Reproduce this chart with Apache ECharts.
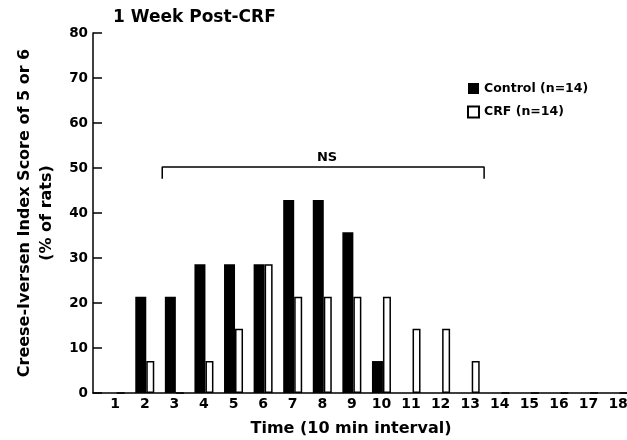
<!DOCTYPE html>
<html>
<head>
<meta charset="UTF-8">
<title>1 Week Post-CRF</title>
<script src="https://cdn.jsdelivr.net/npm/echarts@6.0.0/dist/echarts.min.js"></script>
<style>
    html, body { margin: 0; padding: 0; background: #fff; }
    #chart { width: 627px; height: 440px; }
</style>
</head>
<body>
<div id="chart"></div>
<script>
    // time intervals (10 min each)
    const intervals = [1, 2, 3, 4, 5, 6, 7, 8, 9, 10, 11, 12, 13, 14, 15, 16, 17, 18];
    // % of rats with score 5 or 6
    const controlValues = [0, 21.4, 21.4, 28.6, 28.6, 28.6, 42.9, 42.9, 35.7, 7.1, 0, 0, 0, 0, 0, 0, 0, 0];
    const crfValues = [0, 7.1, 0, 7.1, 14.3, 28.6, 21.4, 21.4, 21.4, 21.4, 14.3, 14.3, 7.1, 0, 0, 0, 0, 0];
    const yTicks = [0, 10, 20, 30, 40, 50, 60, 70, 80];
    // NS bracket, in data units
    const bracket = [[2.59, 47.6], [2.59, 50.2], [13.47, 50.2], [13.47, 47.6]];
    const nsLabel = [[8.16, 52.4]];

    const font = 'DejaVu Sans, Liberation Sans, Arial, sans-serif';

    let chart = echarts.init(document.getElementById('chart'));

    function pairs(vals) {
        return intervals.map(function (x, i) { return [x, vals[i]]; });
    }

    let option = {
        animation: false,
        title: {
            text: '1 Week Post-CRF',
            left: 113,
            top: 9,
            padding: 0,
            textStyle: { fontFamily: font, fontWeight: 'bold', fontSize: 17, color: '#000' }
        },
        legend: {
            orient: 'vertical',
            left: 467,
            top: 82,
            padding: 0,
            itemWidth: 11,
            itemHeight: 11,
            itemGap: 10.5,
            icon: 'rect',
            data: ['Control (n=14)', 'CRF (n=14)'],
            textStyle: { fontFamily: font, fontWeight: 'bold', fontSize: 12.5, lineHeight: 11, color: '#000' }
        },
        grid: { left: 93, right: 0, top: 33, bottom: 47, outerBoundsMode: 'none', containLabel: false },
        xAxis: {
            type: 'value',
            min: 0.25,
            max: 18.3,
            name: 'Time (10 min interval)',
            nameLocation: 'middle',
            nameGap: 28,
            nameTextStyle: { fontFamily: font, fontWeight: 'bold', fontSize: 16, color: '#000', padding: [0, 18, 0, 0] },
            axisLine: { lineStyle: { color: '#000', width: 1.5 } },
            axisTick: { show: false },
            splitLine: { show: false },
            axisLabel: {
                customValues: intervals,
                margin: 4,
                fontFamily: font, fontWeight: 'bold', fontSize: 14, color: '#000'
            }
        },
        yAxis: {
            type: 'value',
            min: 0,
            max: 80,
            interval: 10,
            name: 'Creese-Iversen Index Score of 5 or 6\n(% of rats)',
            nameLocation: 'middle',
            nameRotate: 90,
            nameGap: 35,
            nameTextStyle: { fontFamily: font, fontWeight: 'bold', fontSize: 16, color: '#000', lineHeight: 22 },
            axisLine: { show: true, lineStyle: { color: '#000', width: 1.5 } },
            axisTick: { show: true, inside: true, length: 9, lineStyle: { color: '#000', width: 1.5 }, customValues: yTicks },
            splitLine: { show: false },
            axisLabel: {
                customValues: yTicks,
                margin: 5,
                fontFamily: font, fontWeight: 'bold', fontSize: 13.5, color: '#000'
            }
        },
        series: [
            {
                name: 'Control (n=14)',
                type: 'bar',
                barWidth: 11,
                barGap: '0%',
                itemStyle: { color: '#000' },
                data: pairs(controlValues)
            },
            {
                name: 'CRF (n=14)',
                type: 'bar',
                barWidth: 8,
                barGap: '0%',
                itemStyle: { color: '#fff', borderColor: '#000', borderWidth: 1.5 },
                data: pairs(crfValues)
            },
            {
                name: 'bracket',
                type: 'line',
                symbol: 'none',
                silent: true,
                lineStyle: { color: '#000', width: 1.5 },
                data: bracket
            },
            {
                name: 'ns',
                type: 'scatter',
                symbolSize: 0,
                silent: true,
                itemStyle: { opacity: 1 },
                label: {
                    show: true,
                    formatter: 'NS',
                    position: 'inside',
                    opacity: 1,
                    fontFamily: font, fontWeight: 'bold', fontSize: 13, color: '#000'
                },
                data: nsLabel
            }
        ]
    };

    option && chart.setOption(option);
</script>
</body>
</html>
